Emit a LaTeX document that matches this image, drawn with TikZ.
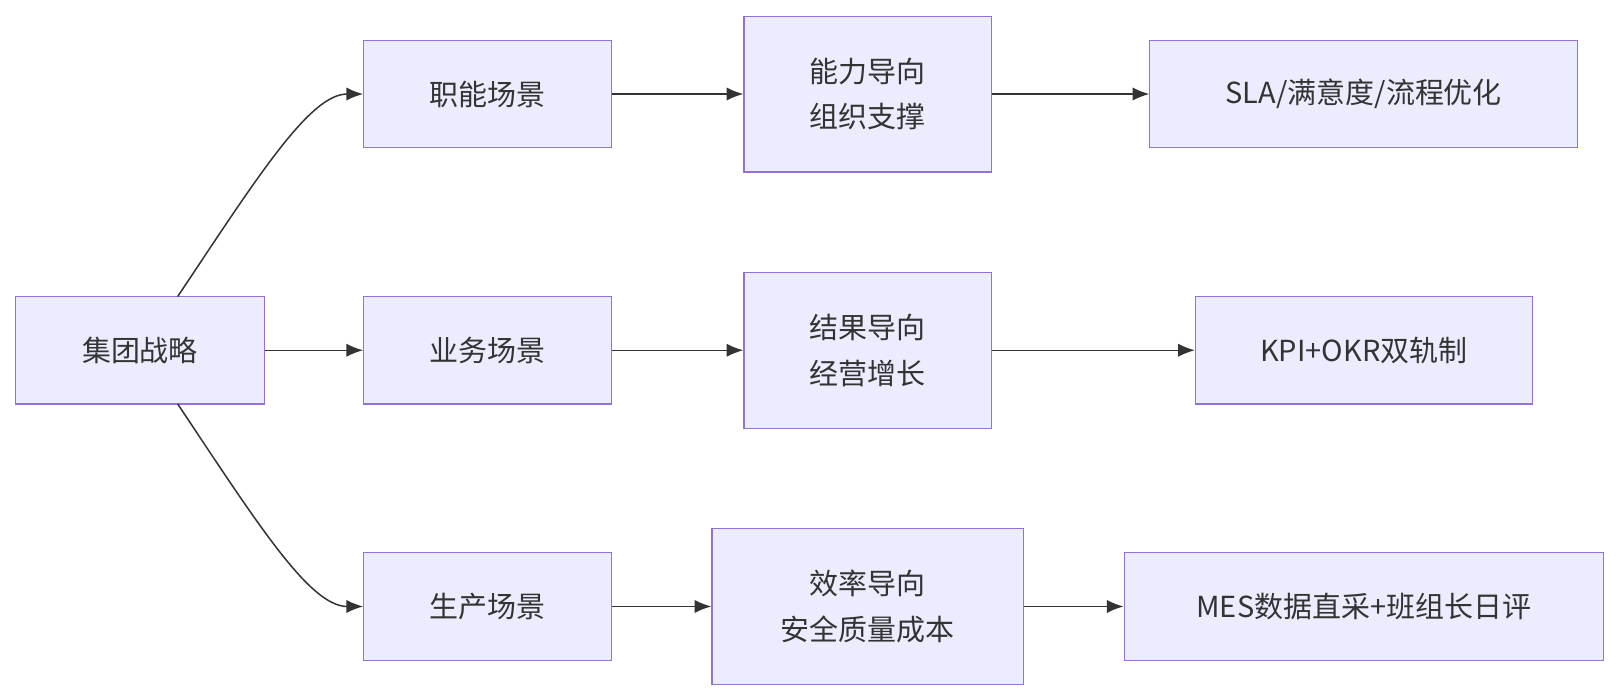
\documentclass[tikz,border=0pt]{standalone}
\usepackage{fontspec}
\setmainfont{Noto Sans CJK SC}
\usetikzlibrary{arrows.meta}
\definecolor{boxfill}{HTML}{ECECFF}
\definecolor{boxline}{HTML}{9370DB}
\definecolor{linkcol}{HTML}{333333}
\tikzset{
    box/.style={rectangle, fill=boxfill, draw=boxline, line width=.65pt,
        minimum height=2.15cm, align=center, inner sep=0pt,
        font=\fontsize{16.5}{26}\selectfont, text=linkcol},
    tall/.style={box, minimum height=3.12cm},
    link/.style={draw=linkcol, line width=.85pt, -{Latex[length=9.5pt,width=7.5pt]}}
}
\begin{document}
\begin{tikzpicture}[x=0.02067cm, y=-0.02067cm]
    % Strategy
    \node[box, minimum width=4.98cm] (Strategy) at (135.5,339) {集团战略};
    % Scenes
    \foreach \name/\i/\y in {职能场景/1/91, 业务场景/2/339, 生产场景/3/587} {
        \node[box, minimum width=4.96cm] (Scene-\i) at (472,\y) {\name};
    }
    % Orientations
    \node[tall, minimum width=4.96cm] (Focus-1) at (840,91) {能力导向\\组织支撑};
    \node[tall, minimum width=4.96cm] (Focus-2) at (840,339) {结果导向\\经营增长};
    \node[tall, minimum width=6.24cm] (Focus-3) at (840,587) {效率导向\\安全质量成本};
    % Measures
    \node[box, minimum width=8.56cm] (Measure-1) at (1320,91) {SLA/满意度/流程优化};
    \node[box, minimum width=6.74cm] (Measure-2) at (1320,339) {KPI+OKR双轨制};
    \node[box, minimum width=9.59cm] (Measure-3) at (1320,587) {MES数据直采+班组长日评};
    % Arrows
    \coordinate (Up) at (172,287);
    \coordinate (Down) at (172,391);
    \draw[link] (Up) .. controls (250,170) and (300,91) .. (Scene-1.west);
    \draw[link] (Strategy) -- (Scene-2);
    \draw[link] (Down) .. controls (250,508) and (300,587) .. (Scene-3.west);
    \foreach \i in {1,2,3} {
        \draw[link] (Scene-\i) -- (Focus-\i);
        \draw[link] (Focus-\i) -- (Measure-\i);
    }
    \pgfresetboundingbox
    \useasboundingbox (0,0) rectangle (1568,677.5);
\end{tikzpicture}
\end{document}
